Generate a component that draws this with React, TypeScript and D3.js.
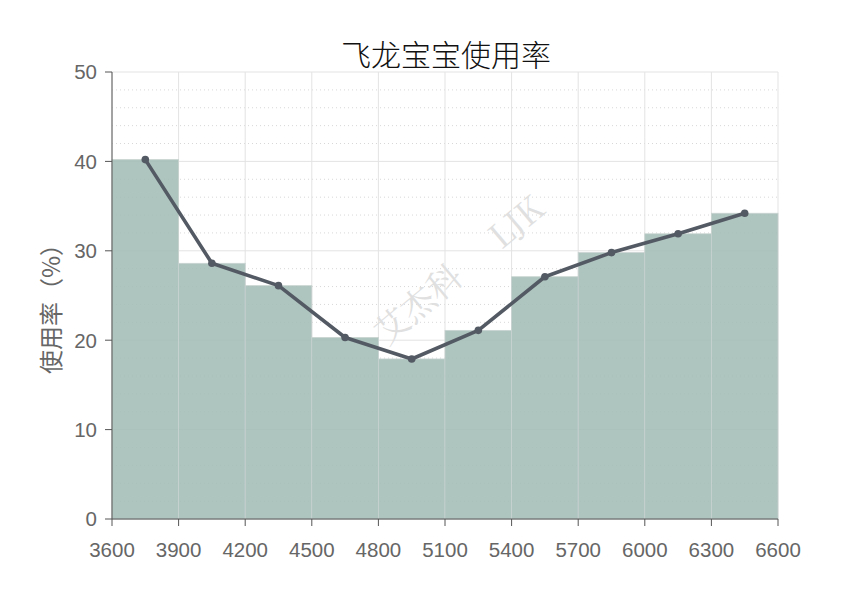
import React from "react";
import * as d3 from "d3";

const binStarts = [3600, 3900, 4200, 4500, 4800, 5100, 5400, 5700, 6000, 6300];
const binWidth = 300;
const usage = [40.2, 28.6, 26.1, 20.3, 17.9, 21.1, 27.1, 29.8, 31.9, 34.2];
const xTicks = [3600, 3900, 4200, 4500, 4800, 5100, 5400, 5700, 6000, 6300, 6600];
const yTicks = [0, 10, 20, 30, 40, 50];
const yMinorTicks = d3.range(0, 50.01, 2);
const title = "飞龙宝宝使用率";
const yLabel = "使用率（%）";

export default function App() {
  const W = 859, H = 609;
  const m = { l: 112, r: 81, t: 72, b: 90 };
  const x = d3.scaleLinear().domain([3600, 6600]).range([m.l, W - m.r]);
  const y = d3.scaleLinear().domain([0, 50]).range([H - m.b, m.t]);
  const font = "'Liberation Sans', Arial, 'Noto Sans CJK SC', sans-serif";
  const cjk = "'Noto Sans CJK SC', sans-serif";
  const line = d3.line<number>()
    .x((_, i) => x(binStarts[i] + binWidth / 2))
    .y((d) => y(d));
  return (
    <svg width={W} height={H} style={{ position: "absolute", left: 0, top: 0, background: "#fff" }}>
      {/* minor grid */}
      {yMinorTicks.filter((t) => t % 10 !== 0).map((t) => (
        <line key={"mn" + t} x1={x(3600)} x2={x(6600)} y1={y(t)} y2={y(t)} stroke="#d8d8d8" strokeWidth={1} strokeDasharray="1,3" />
      ))}
      {yTicks.map((t) => (
        <line key={"gy" + t} x1={x(3600)} x2={x(6600)} y1={y(t)} y2={y(t)} stroke="#e3e3e3" strokeWidth={1} />
      ))}
      {xTicks.map((t) => (
        <line key={"gx" + t} x1={x(t)} x2={x(t)} y1={y(0)} y2={y(50)} stroke="#e3e3e3" strokeWidth={1} />
      ))}
      {/* watermark */}
      <g transform="translate(452,276) rotate(-40)" fill="#e0e0e0" fontFamily="'Noto Serif CJK SC', 'DejaVu Serif', serif" fontSize={34}>
        <text x={-44} y={12} textAnchor="middle">艾杰科</text>
        <text x={84} y={12} textAnchor="middle">LJK</text>
      </g>
      {/* bars */}
      {usage.map((v, i) => (
        <rect key={"b" + i} x={x(binStarts[i])} y={y(v)} width={x(binStarts[i] + binWidth) - x(binStarts[i])} height={y(0) - y(v)}
          fill="#a3bcb6" fillOpacity={0.88} stroke="#c8d3d0" strokeWidth={0.8} />
      ))}
      {/* line */}
      <path d={line(usage) || ""} fill="none" stroke="#545a63" strokeWidth={3.6} strokeLinejoin="round" />
      {usage.map((v, i) => (
        <circle key={"c" + i} cx={x(binStarts[i] + binWidth / 2)} cy={y(v)} r={3.8} fill="#545a63" />
      ))}
      {/* axes */}
      <line x1={x(3600)} x2={x(3600)} y1={y(0)} y2={y(50)} stroke="#555" strokeWidth={1} />
      <line x1={x(3600)} x2={x(6600)} y1={y(0)} y2={y(0)} stroke="#555" strokeWidth={1} />
      {yTicks.map((t) => (
        <g key={"yt" + t}>
          <line x1={x(3600) - 7} x2={x(3600)} y1={y(t)} y2={y(t)} stroke="#555" />
          <text x={x(3600) - 15} y={y(t)} dy="0.36em" textAnchor="end" fill="#666" fontSize={20.5} fontFamily={font}>{t}</text>
        </g>
      ))}
      {xTicks.map((t) => (
        <g key={"xt" + t}>
          <line x1={x(t)} x2={x(t)} y1={y(0)} y2={y(0) + 7} stroke="#555" />
          <text x={x(t)} y={y(0) + 38} textAnchor="middle" fill="#666" fontSize={20.5} fontFamily={font}>{t}</text>
        </g>
      ))}
      <text transform="translate(60,303) rotate(-90)" textAnchor="middle" fill="#666" fontSize={24} fontFamily={cjk}>{yLabel}</text>
      <text x={446} y={66} textAnchor="middle" fill="#111" fontSize={30} fontWeight={300} fontFamily={cjk}>{title}</text>
    </svg>
  );
}
